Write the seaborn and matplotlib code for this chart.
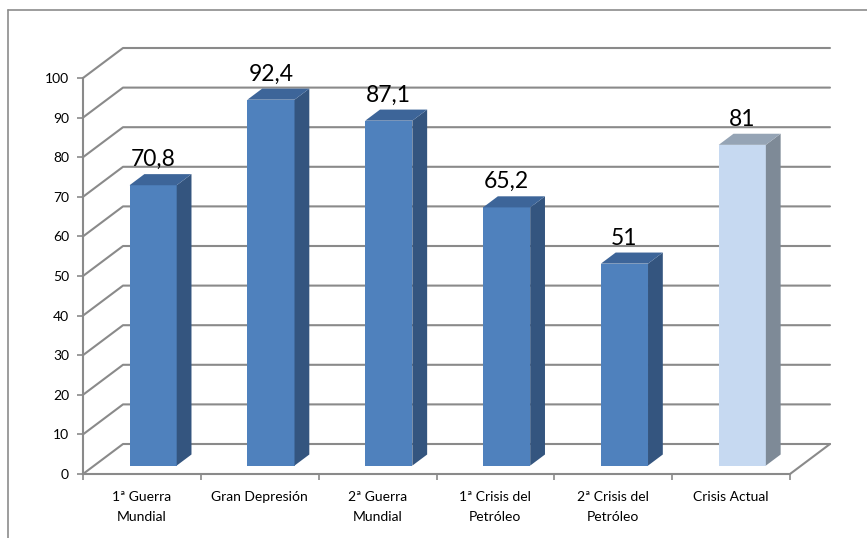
import numpy as np
import pandas as pd
import seaborn as sns
import matplotlib
matplotlib.use("Agg")
import matplotlib.pyplot as plt
from matplotlib.transforms import ScaledTranslation, IdentityTransform
from matplotlib.patches import Polygon
from matplotlib.lines import Line2D
from matplotlib.ticker import FixedLocator

# ---- data ----
categories = ["1ª Guerra\nMundial", "Gran Depresión", "2ª Guerra\nMundial",
              "1ª Crisis del\nPetróleo", "2ª Crisis del\nPetróleo", "Crisis Actual"]
values = [70.8, 92.4, 87.1, 65.2, 51, 81]
value_labels = ["70,8", "92,4", "87,1", "65,2", "51", "81"]
front_colors = ["#4F81BD"] * 5 + ["#C6D9F1"]
side_colors = ["#34557F"] * 5 + ["#7E8A97"]
top_colors = ["#3D6599"] * 5 + ["#95A4B5"]
yticks = list(range(0, 101, 10))

sns.set_theme(style="white")
plt.rcParams['font.family'] = ['Lato', 'DejaVu Sans']

W, H, DPI = 867, 538, 100
fig = plt.figure(figsize=(W / DPI, H / DPI), dpi=DPI)
fig.patch.set_facecolor("white")
ax = fig.add_axes([83 / W, (H - 474) / H, (790 - 83) / W, (474 - 78) / H])
ax.patch.set_alpha(0)

df = pd.DataFrame({"cat": categories, "val": values})
sns.barplot(data=df, x="cat", y="val", hue="cat", palette=front_colors,
            width=0.4, legend=False, ax=ax, saturation=1, zorder=3)
ax.set_xlim(-0.5, 5.5)
ax.set_ylim(0, 100)
ax.set_xlabel("")
ax.set_ylabel("")

GRID = "#8A8A8A"
DX, DY = 40.0, 30.0      # total depth offset in pixels
F0, F1 = 0.28, 0.65      # front / back depth fraction of bars

def disp(x, y, f):
    p = ax.transData.transform((x, y))
    return (p[0] + f * DX, p[1] + f * DY)

# gridlines on the back wall + left wall
for v in yticks:
    pts = [disp(-0.5, v, 0), disp(-0.5, v, 1), disp(5.5, v, 1)]
    ax.add_line(Line2D([p[0] for p in pts], [p[1] for p in pts],
                       transform=IdentityTransform(), color=GRID, lw=1.5,
                       clip_on=False, zorder=1))
# floor right edge
pts = [disp(5.5, 0, 0), disp(5.5, 0, 1)]
ax.add_line(Line2D([p[0] for p in pts], [p[1] for p in pts],
                   transform=IdentityTransform(), color=GRID, lw=1.5,
                   clip_on=False, zorder=1))

# bars: shift front faces, add side and top faces
patches = sorted(ax.patches, key=lambda p: p.get_x())
shift = ScaledTranslation(F0 * DX / DPI, F0 * DY / DPI, fig.dpi_scale_trans)
for i, p in enumerate(patches):
    p.set_transform(ax.transData + shift)
    p.set_edgecolor("none")
    x0 = p.get_x()
    x1 = x0 + p.get_width()
    v = p.get_height()
    side = [disp(x1, 0, F0), disp(x1, v, F0), disp(x1, v, F1), disp(x1, 0, F1)]
    top = [disp(x0, v, F0), disp(x1, v, F0), disp(x1, v, F1), disp(x0, v, F1)]
    ax.add_patch(Polygon(side, closed=True, transform=IdentityTransform(),
                         facecolor=side_colors[i], edgecolor="none",
                         clip_on=False, zorder=3))
    ax.add_patch(Polygon(top, closed=True, transform=IdentityTransform(),
                         facecolor=top_colors[i], edgecolor="none",
                         clip_on=False, zorder=3))
    xc = x0 + p.get_width() / 2
    ax.annotate(value_labels[i], xy=(xc, v),
                xytext=(F0 * DX * 0.72, (F1 * DY + 8) * 0.72),
                textcoords="offset points", ha="center", va="baseline",
                fontsize=16.5, color="black", zorder=5)

# axes styling
for s in ["top", "right"]:
    ax.spines[s].set_visible(False)
for s in ["left", "bottom"]:
    ax.spines[s].set_visible(True)
    ax.spines[s].set_color(GRID)
    ax.spines[s].set_linewidth(1.5)
ax.set_yticks(yticks)
ax.set_yticklabels([str(t) for t in yticks])
ax.tick_params(axis="y", which="major", direction="out", length=4, width=1.2,
               color=GRID, pad=6, labelsize=10, labelcolor="black", left=True)
ax.set_xticks(range(len(categories)))
ax.set_xticklabels(categories, linespacing=1.85)
ax.xaxis.set_minor_locator(FixedLocator(np.arange(-0.5, 6.0, 1.0)))
ax.tick_params(axis="x", which="minor", direction="out", length=4, width=1.2,
               color=GRID, bottom=True)
ax.tick_params(axis="x", which="major", length=0, pad=12, labelsize=10,
               labelcolor="black")
ax.grid(False)

# outer chart border
fig.add_artist(Line2D([8 / W, 8 / W], [-0.1, 1 - 10 / H], transform=fig.transFigure,
                      color="#8C8C8C", lw=1.2))
fig.add_artist(Line2D([8 / W, 1.1], [1 - 10 / H, 1 - 10 / H], transform=fig.transFigure,
                      color="#8C8C8C", lw=1.2))

fig.savefig("out.png", dpi=DPI, facecolor="white")
